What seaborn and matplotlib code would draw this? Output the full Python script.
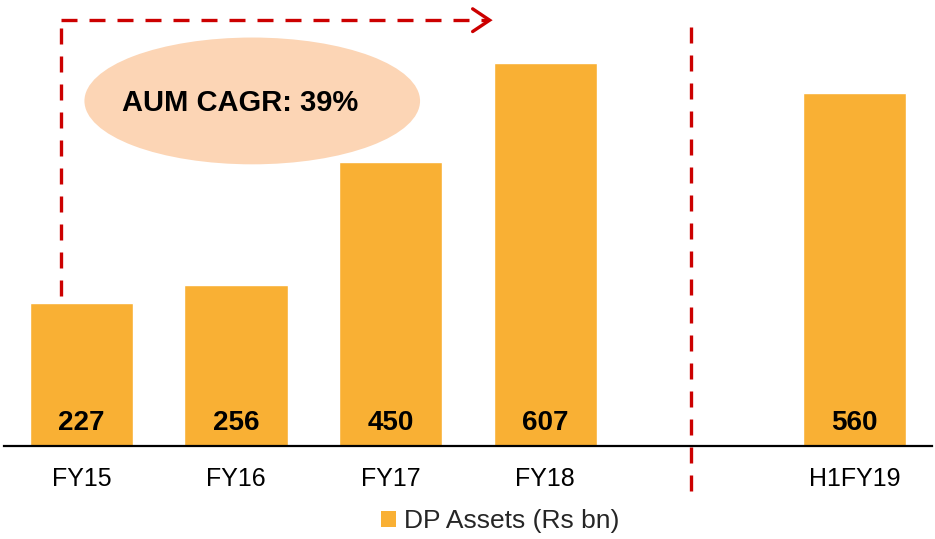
import matplotlib
matplotlib.use('Agg')
import matplotlib.pyplot as plt
from matplotlib.patches import Ellipse, Patch
import seaborn as sns
import pandas as pd

# Data
periods = ['FY15', 'FY16', 'FY17', 'FY18', 'H1FY19']
dp_assets = [227, 256, 450, 607, 560]
order = ['FY15', 'FY16', 'FY17', 'FY18', ' ', 'H1FY19']
series_name = 'DP Assets (Rs bn)'
cagr_text = 'AUM CAGR: 39%'

bar_color = '#F9B034'
red = '#CC0000'

sns.set_theme(style='white')
plt.rcParams['font.family'] = ['Liberation Sans', 'DejaVu Sans']

df = pd.DataFrame({'period': periods, 'value': dp_assets})

fig = plt.figure(figsize=(9.35, 5.39), dpi=100)
ax = fig.add_axes([4 / 935, 93 / 539, 928 / 935, 446 / 539])

sns.barplot(data=df, x='period', y='value', order=order, color=bar_color,
            saturation=1, width=0.67, ax=ax)

ax.set_ylim(0, 707)
ax.set_xlim(-0.5, 5.5)
ax.set_xlabel('')
ax.set_ylabel('')
ax.set_yticks([])
ax.tick_params(axis='x', length=0, labelsize=18, pad=15, colors='black')
for s in ['left', 'right', 'top']:
    ax.spines[s].set_visible(False)
ax.spines['bottom'].set_color('black')
ax.spines['bottom'].set_linewidth(1.6)

# value labels inside bars
for p, v in zip(periods, dp_assets):
    xi = order.index(p)
    ax.text(xi, 37, str(v), ha='center', va='center', fontsize=20,
            fontweight='bold', color='black')

# CAGR dashed arrow
dash = (0, (4.8, 3.6))
ax.plot([-0.13, -0.13], [237, 675], color=red, lw=2.4, linestyle=dash,
        clip_on=False, solid_capstyle='butt')
ax.plot([-0.13, 2.62], [675, 675], color=red, lw=2.4, linestyle=dash,
        clip_on=False)
ax.plot([2.53, 2.64, 2.53], [693, 675, 657], color=red, lw=2.4,
        clip_on=False, solid_joinstyle='miter', solid_capstyle='round')

# divider between FY18 and H1FY19
ax.plot([3.94, 3.94], [664, -73], color=red, lw=2.4, linestyle=dash,
        clip_on=False)

# CAGR bubble
ell = Ellipse((1.105, 547), width=2.17, height=201, facecolor='#FCD5B5',
              edgecolor='none', zorder=3)
ax.add_patch(ell)
ax.text(0.26, 544, cagr_text, ha='left', va='center', fontsize=21,
        fontweight='bold', color='black', zorder=4)

# legend
handle = Patch(facecolor=bar_color, edgecolor='none', label=series_name)
fig.legend(handles=[handle], loc='center', bbox_to_anchor=(0.535, 0.033),
           frameon=False, fontsize=19, handlelength=0.55, handleheight=0.55,
           handletextpad=0.3)

fig.savefig('out.png', dpi=100)
